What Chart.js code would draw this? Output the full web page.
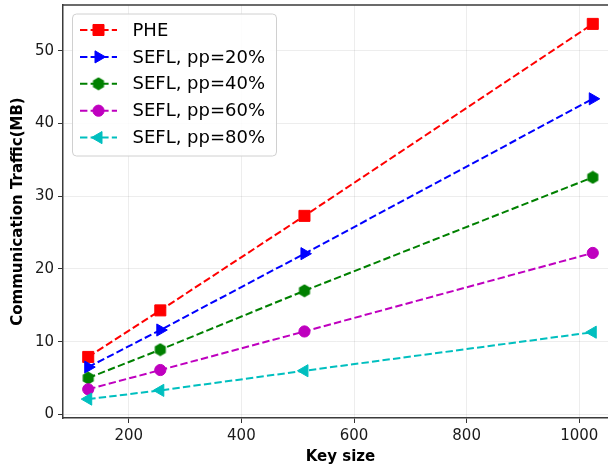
<!DOCTYPE html>
<html>
<head>
<meta charset="utf-8">
<script src="https://cdn.jsdelivr.net/npm/chart.js@4.4.1/dist/chart.umd.min.js"></script>
<style>
  html, body { margin: 0; padding: 0; overflow: hidden; background: #fff; }
</style>
</head>
<body>
<canvas id="trafficCanvas" width="608" height="468"></canvas>
<script>
// values
const keySizes = [128, 256, 512, 1024];
const labels = ['PHE', 'SEFL, pp=20%', 'SEFL, pp=40%', 'SEFL, pp=60%', 'SEFL, pp=80%'];
const phe = [7.9, 14.3, 27.3, 53.7];
const pp20 = [6.5, 11.6, 22.1, 43.4];
const pp40 = [5.0, 8.9, 17.0, 32.6];
const pp60 = [3.45, 6.1, 11.4, 22.2];
const pp80 = [2.1, 3.3, 6.0, 11.3];
const xTickValues = [200, 400, 600, 800, 1000];
const yTickValues = [0, 10, 20, 30, 40, 50];

// hexagon marker (Chart.js has none)
function makeHexagon(color) {
    const c = document.createElement('canvas');
    c.width = 14; c.height = 14;
    const g = c.getContext('2d');
    g.beginPath();
    for (let i = 0; i < 6; i++) {
        const a = -Math.PI / 2 + i * Math.PI / 3;
        const px = 7 + 6.4 * Math.cos(a), py = 7 + 6.4 * Math.sin(a);
        if (i === 0) g.moveTo(px, py); else g.lineTo(px, py);
    }
    g.closePath();
    g.fillStyle = color;
    g.fill();
    return c;
}

const colors = ['#ff0000', '#0000ff', '#008000', '#bf00bf', '#00bfbf'];
const markers = [
    {style: 'rect', radius: 7.8, rotation: 0},
    {style: 'triangle', radius: 7, rotation: 90},
    {style: makeHexagon('#008000'), radius: 6, rotation: 0},
    {style: 'circle', radius: 5.6, rotation: 0},
    {style: 'triangle', radius: 7, rotation: -90}
];
const series = [phe, pp20, pp40, pp60, pp80];

const datasets = series.map((vals, i) => ({
    label: labels[i],
    data: keySizes.map((k, j) => ({x: k, y: vals[j]})),
    borderColor: colors[i],
    backgroundColor: colors[i],
    borderWidth: 2,
    borderDash: [7.4, 3.2],
    pointStyle: markers[i].style,
    pointRadius: markers[i].radius,
    pointRotation: markers[i].rotation,
    pointBackgroundColor: colors[i],
    pointBorderColor: colors[i],
    pointBorderWidth: 1,
    order: 5 - i
}));

// the plot box of the original runs past the right edge of the picture,
// so the area is set by hand after chart.js has done its layout
const plotBox = { left: 63, top: 5, right: 618, bottom: 418 };
const boxPlugin = {
    id: 'plotBox',
    afterLayout(chart) {
        const a = chart.chartArea;
        Object.assign(a, plotBox);
        a.width = plotBox.right - plotBox.left;
        a.height = plotBox.bottom - plotBox.top;
        const x = chart.scales.x, y = chart.scales.y;
        x.left = plotBox.left; x.right = plotBox.right; x.width = a.width;
        x.top = plotBox.bottom; x.bottom = chart.height; x.height = chart.height - plotBox.bottom;
        y.left = 0; y.right = plotBox.left; y.width = plotBox.left;
        y.top = plotBox.top; y.bottom = plotBox.bottom; y.height = a.height;
        x.configure();
        y.configure();
    }
};

// legend with line + marker, like matplotlib
const legendPlugin = {
    id: 'mplLegend',
    afterDraw(chart) {
        const ctx = chart.ctx;
        const area = chart.chartArea;
        ctx.save();
        // top border of the axes
        ctx.strokeStyle = '#3a3a3a';
        ctx.lineWidth = 1.5;
        ctx.beginPath();
        ctx.moveTo(area.left, area.top);
        ctx.lineTo(area.right, area.top);
        ctx.stroke();

        const bx = 72.5, by = 14, bw = 204, bh = 142;
        ctx.beginPath();
        ctx.roundRect(bx, by, bw, bh, 4);
        ctx.fillStyle = 'rgba(255,255,255,0.85)';
        ctx.fill();
        ctx.strokeStyle = '#d0d0d0';
        ctx.lineWidth = 1;
        ctx.stroke();

        ctx.font = '18px "DejaVu Sans"';
        ctx.textBaseline = 'middle';
        chart.data.datasets.forEach((ds, i) => {
            const y = 30 + i * 26.9;
            ctx.strokeStyle = ds.borderColor;
            ctx.lineWidth = 2;
            ctx.setLineDash([7.4, 3.2]);
            ctx.beginPath();
            ctx.moveTo(80, y);
            ctx.lineTo(117, y);
            ctx.stroke();
            ctx.setLineDash([]);
            ctx.fillStyle = ds.pointBackgroundColor;
            ctx.strokeStyle = ds.pointBorderColor;
            ctx.lineWidth = 1;
            Chart.helpers.drawPoint(ctx, {
                pointStyle: ds.pointStyle,
                radius: ds.pointRadius,
                rotation: ds.pointRotation,
                borderWidth: 1
            }, 98.5, y);
            ctx.fillStyle = '#000';
            ctx.fillText(ds.label, 132.5, y + 1);
        });
        ctx.restore();
    }
};

const ctx = document.getElementById('trafficCanvas').getContext('2d');
new Chart(ctx, {
    type: 'line',
    data: { datasets: datasets },
    plugins: [boxPlugin, legendPlugin],
    options: {
        responsive: false,
        animation: false,
        plugins: {
            legend: { display: false },
            tooltip: { enabled: false }
        },
        scales: {
            x: {
                type: 'linear',
                min: 83.2,
                max: 1068.8,
                afterBuildTicks: (scale) => { scale.ticks = xTickValues.map(v => ({value: v})); },
                grid: {
                    color: 'rgba(0,0,0,0.09)',
                    lineWidth: 0.8,
                    tickColor: '#333',
                    tickLength: 5,
                    tickWidth: 1
                },
                border: { color: '#3a3a3a', width: 1.5 },
                ticks: {
                    color: '#1a1a1a',
                    padding: 4,
                    maxRotation: 0,
                    callback: (v) => String(v),
                    font: { family: 'DejaVu Sans', size: 15 }
                },
                title: {
                    display: true,
                    text: 'Key size',
                    color: '#000',
                    padding: 2,
                    font: { family: 'DejaVu Sans', size: 15, weight: 'bold' }
                }
            },
            y: {
                min: -0.5,
                max: 56.3,
                afterBuildTicks: (scale) => { scale.ticks = yTickValues.map(v => ({value: v})); },
                grid: {
                    color: 'rgba(0,0,0,0.09)',
                    lineWidth: 0.8,
                    tickColor: '#333',
                    tickLength: 5,
                    tickWidth: 1
                },
                border: { color: '#3a3a3a', width: 1.5 },
                ticks: {
                    color: '#1a1a1a',
                    padding: 4,
                    callback: (v) => String(v),
                    font: { family: 'DejaVu Sans', size: 15 }
                },
                title: {
                    display: true,
                    text: 'Communication Traffic(MB)',
                    color: '#000',
                    padding: 9,
                    font: { family: 'DejaVu Sans', size: 15, weight: 'bold' }
                }
            }
        }
    }
});
</script>
</body>
</html>
